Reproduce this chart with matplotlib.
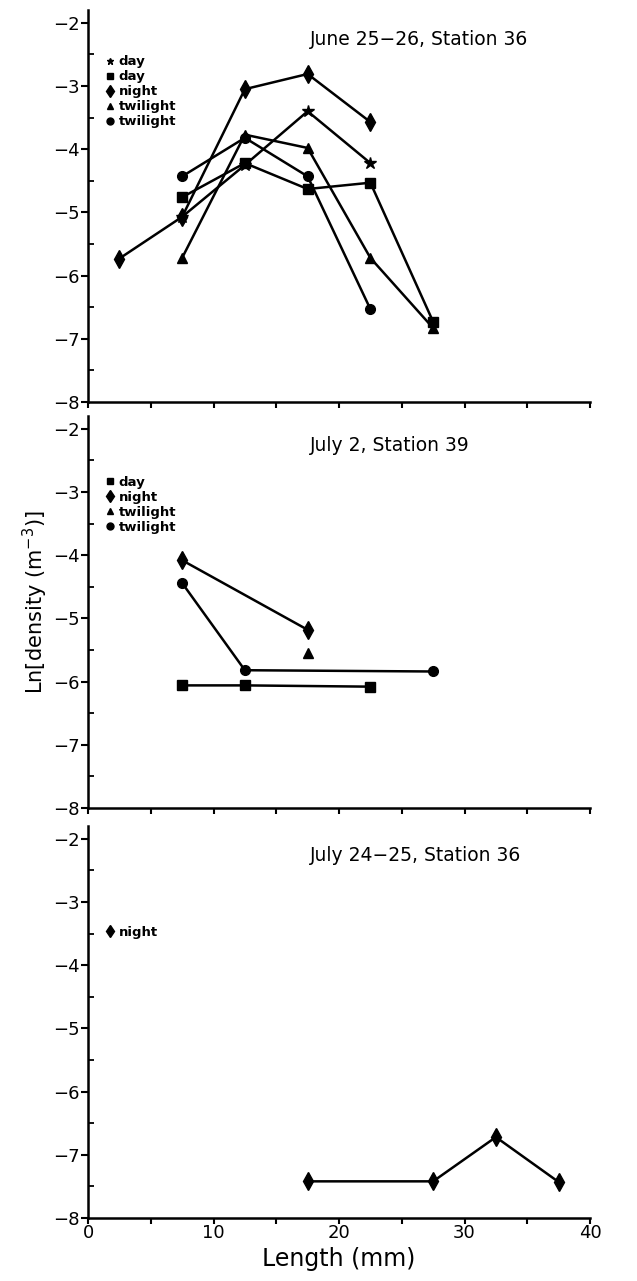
import matplotlib
matplotlib.use("Agg")
import matplotlib.pyplot as plt
from matplotlib.lines import Line2D
from matplotlib.ticker import MultipleLocator

# ---- data ----
# Panel 1: June 25-26, Station 36
p1_day_star_x = [7.5, 12.5, 17.5, 22.5]
p1_day_star_y = [-5.07, -4.25, -3.40, -4.22]
p1_day_sq_x = [7.5, 12.5, 17.5, 22.5, 27.5]
p1_day_sq_y = [-4.76, -4.22, -4.63, -4.53, -6.73]
p1_night_x = [2.5, 7.5, 12.5, 17.5, 22.5]
p1_night_y = [-5.73, -5.07, -3.05, -2.81, -3.57]
p1_twi_tri_x = [7.5, 12.5, 17.5, 22.5, 27.5]
p1_twi_tri_y = [-5.72, -3.77, -3.98, -5.72, -6.83]
p1_twi_circ_x = [7.5, 12.5, 17.5, 22.5]
p1_twi_circ_y = [-4.43, -3.82, -4.43, -6.53]

# Panel 2: July 2, Station 39
p2_day_sq_x = [7.5, 12.5, 22.5]
p2_day_sq_y = [-6.06, -6.06, -6.08]
p2_night_x = [7.5, 17.5]
p2_night_y = [-4.08, -5.18]
p2_twi_tri_x = [17.5]
p2_twi_tri_y = [-5.54]
p2_twi_circ_x = [7.5, 12.5, 27.5]
p2_twi_circ_y = [-4.44, -5.82, -5.84]

# Panel 3: July 24-25, Station 36
p3_night_x = [17.5, 27.5, 32.5, 37.5]
p3_night_y = [-7.42, -7.42, -6.72, -7.43]

titles = ["June 25\u221226, Station 36", "July 2, Station 39", "July 24\u221225, Station 36"]
x_ticks = [0, 10, 20, 30, 40]
y_ticks = [-8, -7, -6, -5, -4, -3, -2]

plt.rcParams['font.family'] = ['DejaVu Sans']

W, H = 637, 1281
fig = plt.figure(figsize=(W / 100, H / 100), dpi=100)

left = 88 / W
width = (590 - 88) / W
ppu = 63.2
ymin, ymax = -8, -1.8
height = (ymax - ymin) * ppu / H
bottoms_px = [402, 808, 1218]

axes = []
for b in bottoms_px:
    ax = fig.add_axes([left, 1 - b / H, width, height])
    axes.append(ax)

LW = 1.8
MS = 7
def plot_series(ax, x, y, marker, ms=MS, line=True):
    ax.plot(x, y, color='black', lw=LW if line else 0, marker=marker,
            ms=ms, mfc='black', mec='black', zorder=3)

# panel 1
ax = axes[0]
plot_series(ax, p1_day_star_x, p1_day_star_y, '*', ms=9)
plot_series(ax, p1_day_sq_x, p1_day_sq_y, 's')
plot_series(ax, p1_night_x, p1_night_y, 'd', ms=9)
plot_series(ax, p1_twi_tri_x, p1_twi_tri_y, '^')
plot_series(ax, p1_twi_circ_x, p1_twi_circ_y, 'o')

# panel 2
ax = axes[1]
plot_series(ax, p2_day_sq_x, p2_day_sq_y, 's')
plot_series(ax, p2_night_x, p2_night_y, 'd', ms=9)
plot_series(ax, p2_twi_tri_x, p2_twi_tri_y, '^', line=False)
plot_series(ax, p2_twi_circ_x, p2_twi_circ_y, 'o')

# panel 3
ax = axes[2]
plot_series(ax, p3_night_x, p3_night_y, 'd', ms=9)

legend_specs = [
    [('*', 'day'), ('s', 'day'), ('d', 'night'), ('^', 'twilight'), ('o', 'twilight')],
    [('s', 'day'), ('d', 'night'), ('^', 'twilight'), ('o', 'twilight')],
    [('d', 'night')],
]
legend_tops = [0.885, 0.848, 0.745]

for i, ax in enumerate(axes):
    ax.set_xlim(0, 40)
    ax.set_ylim(ymin, ymax)
    for s in ['top', 'right']:
        ax.spines[s].set_visible(False)
    for s in ['left', 'bottom']:
        ax.spines[s].set_linewidth(1.8)
    ax.xaxis.set_major_locator(MultipleLocator(10))
    ax.xaxis.set_minor_locator(MultipleLocator(5))
    ax.set_yticks(y_ticks)
    ax.yaxis.set_minor_locator(MultipleLocator(0.5))
    ax.tick_params(axis='x', which='both', direction='out', length=4, width=1.5)
    ax.tick_params(axis='y', which='major', direction='out', length=5, width=1.5,
                   labelsize=13, pad=1)
    ax.tick_params(axis='y', which='minor', direction='in', length=4, width=1.3)
    ax.set_yticklabels([f"\u2212{abs(v)}" for v in y_ticks])
    if i < 2:
        ax.set_xticklabels([])
    else:
        ax.set_xticks(x_ticks)
        ax.set_xticklabels([str(v) for v in x_ticks])
        ax.tick_params(axis='x', which='major', labelsize=13, pad=0)
        ax.set_xlabel("Length (mm)", fontsize=17, labelpad=4)
    ax.text(0.442, 0.925, titles[i], transform=ax.transAxes, fontsize=13.5,
            ha='left', va='center')
    handles = [Line2D([], [], ls='none', marker=m, color='black', ms=5 if m != 'd' else 6)
               for m, _ in legend_specs[i]]
    labels = [l for _, l in legend_specs[i]]
    leg = ax.legend(handles, labels, loc='upper left', bbox_to_anchor=(0.035, legend_tops[i]),
                    frameon=False, handlelength=0.6, handletextpad=0.4,
                    labelspacing=0.15, borderaxespad=0, borderpad=0,
                    prop={'size': 9.5, 'weight': 'bold'})

fig.text(35 / W, 1 - 602 / H, "Ln[density (m$^{-3}$)]", rotation=90,
         fontsize=15, ha='center', va='center')

fig.savefig("out.png", dpi=100)
